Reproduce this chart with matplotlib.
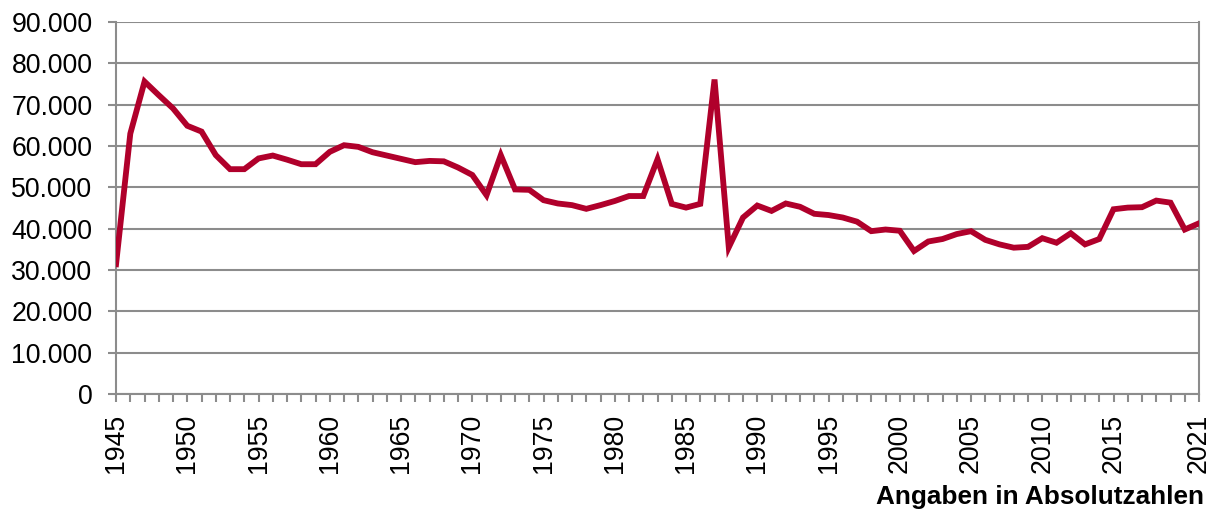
import numpy as np
import matplotlib
matplotlib.use("Agg")
import matplotlib.pyplot as plt
from matplotlib.ticker import FuncFormatter

plt.rcParams["font.family"] = ["Liberation Sans", "DejaVu Sans"]

# Values per year (absolute numbers)
years = list(range(1945, 2022))
values = [
    31400, 63000, 75600, 72300, 69100, 64900, 63500, 57800, 54400, 54400,  # 1945-1954
    57000, 57700, 56700, 55600, 55600, 58600, 60200, 59800, 58500, 57700,  # 1955-1964
    56900, 56100, 56400, 56300, 54800, 53000, 48100, 57800, 49500, 49400,  # 1965-1974
    46900, 46100, 45700, 44800, 45700, 46700, 47900, 47900, 56800, 46000,  # 1975-1984
    45100, 46000, 76100, 35500, 42700, 45600, 44300, 46100, 45300, 43600,  # 1985-1994
    43300, 42700, 41700, 39400, 39800, 39500, 34600, 36900, 37500, 38700,  # 1995-2004
    39400, 37300, 36200, 35400, 35600, 37700, 36600, 38900, 36200, 37500,  # 2005-2014
    44700, 45100, 45200, 46800, 46300, 39800, 41300,                       # 2015-2021
]
label_years = [1945, 1950, 1955, 1960, 1965, 1970, 1975, 1980, 1985,
               1990, 1995, 2000, 2005, 2010, 2015, 2021]

grid_col = "#8c8c8c"
line_col = "#b0002b"

fig = plt.figure(figsize=(12.19, 5.13), dpi=100)
ax = fig.add_axes([0.0952, 0.232, 0.8884, 0.725])

ax.plot(years, values, color=line_col, linewidth=4.2, solid_joinstyle="miter", zorder=3)

ax.set_xlim(1945, 2021)
ax.set_ylim(0, 90000)
ax.set_yticks(np.arange(0, 90001, 10000))
ax.yaxis.set_major_formatter(FuncFormatter(lambda v, p: f"{int(v):,}".replace(",", ".")))
ax.set_xticks(years)
ax.set_xticklabels([str(y) if y in label_years else "" for y in years], rotation=90)

ax.grid(axis="y", color=grid_col, linewidth=1.5)
ax.set_axisbelow(True)
for side in ["left", "bottom", "right"]:
    ax.spines[side].set_color(grid_col)
    ax.spines[side].set_linewidth(1.5)
ax.spines["top"].set_visible(False)

ax.tick_params(axis="y", length=6, width=1.5, color=grid_col, pad=11, labelsize=19.2)
ax.tick_params(axis="x", length=6, width=1.5, color=grid_col, pad=8, labelsize=19.2)

fig.text(0.988, 0.0175, "Angaben in Absolutzahlen", ha="right", va="baseline",
         fontsize=18.8, fontweight="bold")

fig.savefig("out.png", dpi=100)
